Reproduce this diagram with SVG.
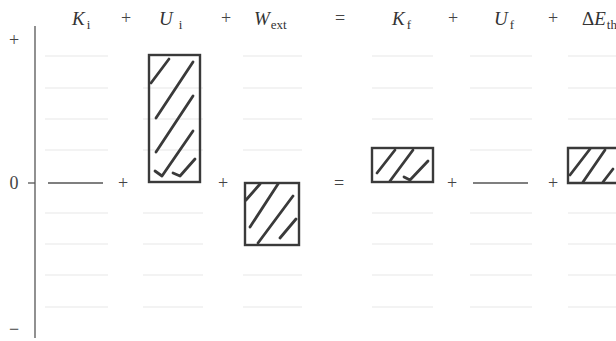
<svg xmlns="http://www.w3.org/2000/svg" width="616" height="341" viewBox="0 0 616 341">
<style>
.t{font-family:"Liberation Serif",serif;font-size:19px;fill:#333}
.v{font-style:italic}
.s{font-size:13px;font-style:normal}
.op{font-family:"Liberation Serif",serif;font-size:18px;fill:#444;text-anchor:middle}
.grid{stroke:#f0f0f0;stroke-width:1.6}
.box{fill:none;stroke:#3a3a3a;stroke-width:2.4}
.hatch{fill:none;stroke:#3a3a3a;stroke-width:2.8;stroke-linecap:round;stroke-linejoin:round}
.zero{stroke:#555;stroke-width:1.3}
.axis{stroke:#555;stroke-width:1.3}
</style>
<rect width="616" height="341" fill="#fff"/>
<g id="grid">
<path class="grid" d="M45 56H108M45 88H108M45 119H108M45 150H108M45 213H108M45 244H108M45 275H108M45 307H108"/>
<path class="grid" d="M143 88H203M143 119H203M143 150H203M143 213H203M143 244H203M143 275H203M143 307H203"/>
<path class="grid" d="M243 56H302M243 88H302M243 119H302M243 150H302M243 275H302M243 307H302"/>
<path class="grid" d="M372 56H433M372 88H433M372 119H433M372 213H433M372 244H433M372 275H433M372 307H433"/>
<path class="grid" d="M470 56H532M470 88H532M470 119H532M470 150H532M470 213H532M470 244H532M470 275H532M470 307H532"/>
<path class="grid" d="M568 56H616M568 88H616M568 119H616M568 213H616M568 244H616M568 275H616M568 307H616"/>
</g>
<g id="axis">
<line class="axis" x1="35" y1="26" x2="35" y2="338"/>
<line class="axis" x1="28" y1="183" x2="35" y2="183"/>
<text class="op" x="14" y="46">+</text>
<text class="op" x="14" y="189">0</text>
<text class="op" x="14" y="335">−</text>
</g>
<g id="header">
<text class="t" x="72" y="25"><tspan class="v">K</tspan><tspan class="s" dx="2" dy="4">i</tspan></text>
<text class="op" x="126" y="24">+</text>
<text class="t" x="159" y="25"><tspan class="v">U</tspan><tspan class="s" dx="6" dy="4">i</tspan></text>
<text class="op" x="226" y="24">+</text>
<text class="t" x="254" y="25"><tspan class="v">W</tspan><tspan class="s" dx="1" dy="4">ext</tspan></text>
<text class="op" x="340" y="24">=</text>
<text class="t" x="392" y="25"><tspan class="v">K</tspan><tspan class="s" dx="2" dy="4">f</tspan></text>
<text class="op" x="453" y="24">+</text>
<text class="t" x="494" y="25"><tspan class="v">U</tspan><tspan class="s" dx="2" dy="4">f</tspan></text>
<text class="op" x="553" y="24">+</text>
<text class="t" x="582" y="25">Δ<tspan class="v">E</tspan><tspan class="s" dx="1" dy="4">th</tspan></text>
</g>
<g id="Ki">
<line class="zero" x1="48" y1="183" x2="103" y2="183"/>
</g>
<text class="op" x="123" y="189">+</text>
<g id="Ui">
<rect class="box" x="149" y="55" width="51" height="127"/>
<path class="hatch" d="M151 83L169 59M156 118L193 62M156 152L193 96M193 131L162 176L155 171M195 159L180 176L173 173"/>
</g>
<text class="op" x="223" y="189">+</text>
<g id="Wext">
<rect class="box" x="245" y="183" width="54" height="62"/>
<path class="hatch" d="M246 200L260 184M250 227L278 184M258 243L293 196M280 238L296 219"/>
</g>
<text class="op" x="339" y="189">=</text>
<g id="Kf">
<rect class="box" x="372" y="148" width="61" height="34"/>
<path class="hatch" d="M377 173L395 150M390 181L413 150M428 161L410 180L404 177"/>
</g>
<text class="op" x="452" y="189">+</text>
<g id="Uf">
<line class="zero" x1="473" y1="183" x2="528" y2="183"/>
</g>
<text class="op" x="553" y="189">+</text>
<g id="Eth">
<path class="box" d="M620 148H568V183H620"/>
<path class="hatch" d="M570 175L590 149M583 182L605 150M603 182L613 169"/>
</g>
</svg>
